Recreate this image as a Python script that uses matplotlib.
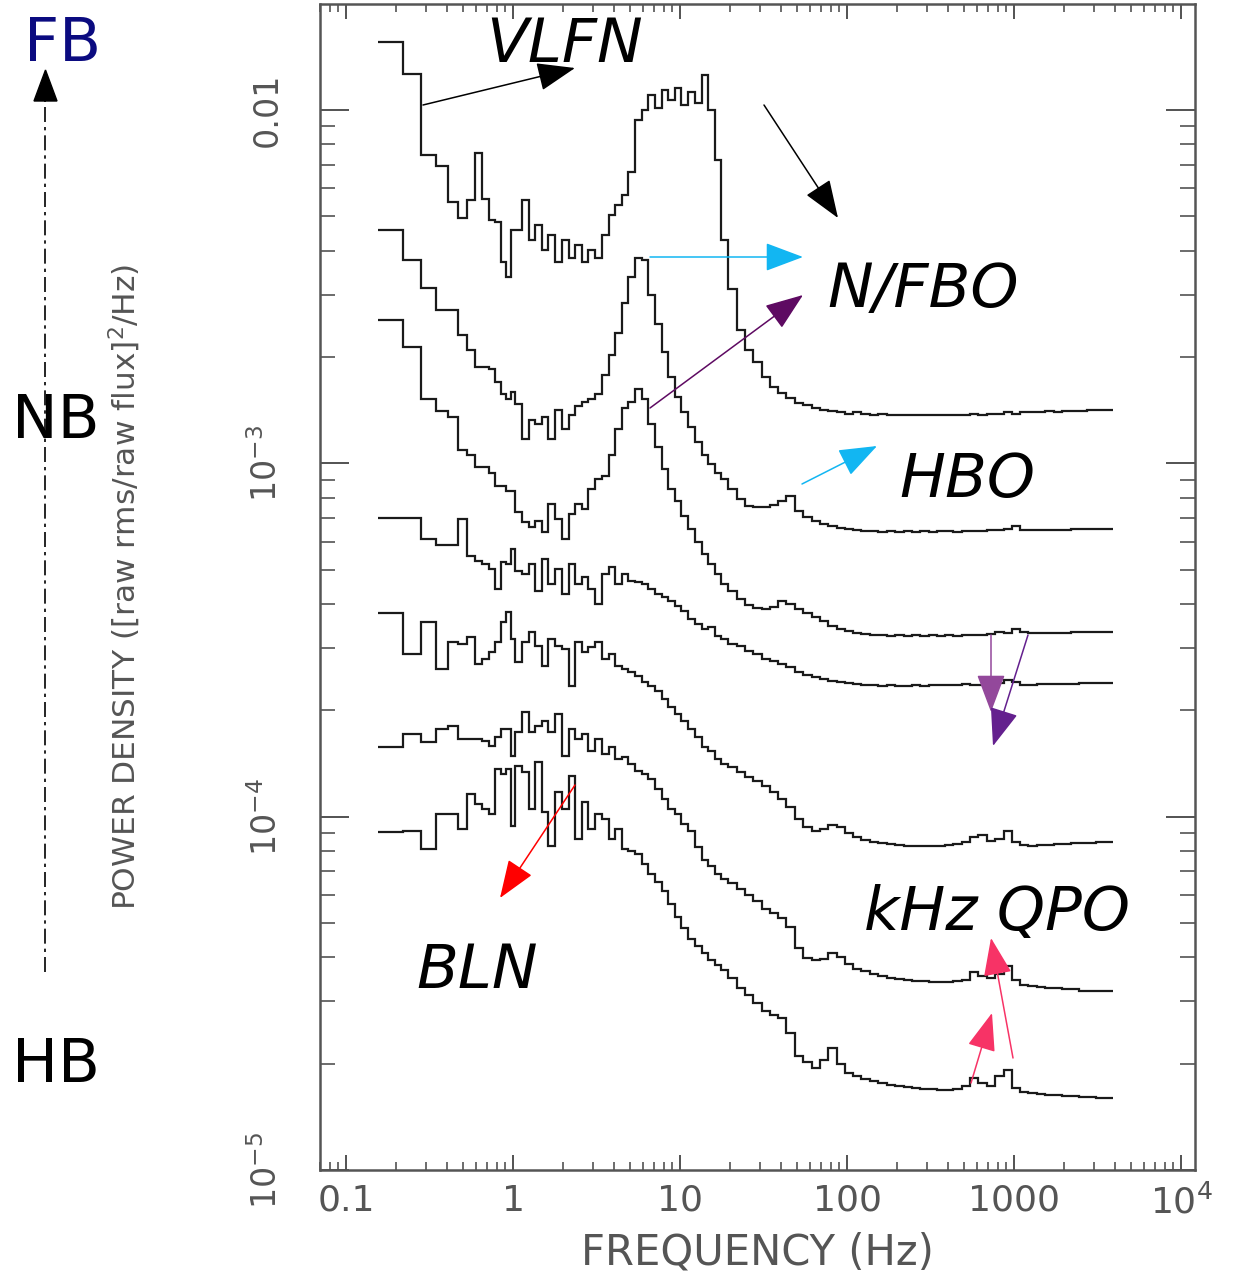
import numpy as np
import matplotlib
matplotlib.use("Agg")
import matplotlib.pyplot as plt
from matplotlib.ticker import FixedLocator, LogLocator, NullFormatter

# ---------------- data ----------------
# frequency bin edges (Hz)
freq_edges = [0.156, 0.219, 0.281, 0.344, 0.406, 0.469, 0.531, 0.594, 0.656, 0.719,
              0.781, 0.844, 0.906, 0.969, 1.03,
              1.13, 1.24, 1.36, 1.49, 1.63, 1.79, 1.96, 2.15, 2.36, 2.58,
              2.83, 3.10, 3.40, 3.73, 4.09, 4.48, 4.91, 5.38, 5.90, 6.47,
              7.09, 7.77, 8.51, 9.33, 10.2, 11.2, 12.3, 13.5, 14.8, 16.2,
              17.7, 19.4,
              21.8, 24.4, 27.4, 30.8, 34.5, 38.7, 43.4, 48.7, 54.7, 61.3,
              68.8, 77.2, 86.6, 97.2, 109, 122, 137, 154, 173, 194,
              218, 244, 274, 308, 345, 387, 434, 487, 547, 613,
              688, 772, 866, 972, 1090, 1220, 1370, 1540, 1730, 1940,
              2180, 2440, 2740, 3080, 3450, 3900]

# log10 of power density ([rms/flux]^2/Hz), top (FB) to bottom (HB)
fb_log_power = [
    -1.808, -1.898, -2.127, -2.158, -2.260, -2.305, -2.254, -2.122, -2.251, -2.311,
    -2.316, -2.429, -2.472, -2.339,
    -2.339, -2.254, -2.367, -2.325, -2.396, -2.353, -2.429, -2.367, -2.418, -2.381,
    -2.429, -2.396, -2.418, -2.353, -2.297, -2.268, -2.240, -2.175, -2.028, -2.000,
    -1.958, -1.994, -1.944, -1.972, -1.938, -1.986, -1.949, -1.980, -1.901, -2.000,
    -2.141, -2.367,
    -2.508, -2.622, -2.678, -2.712, -2.757, -2.783, -2.802, -2.816, -2.828, -2.836,
    -2.842, -2.848, -2.853, -2.856, -2.859, -2.856, -2.859, -2.862, -2.859, -2.864,
    -2.862, -2.864, -2.862, -2.864, -2.862, -2.864, -2.862, -2.862, -2.862, -2.859,
    -2.862, -2.859, -2.859, -2.856, -2.859, -2.856, -2.856, -2.856, -2.853, -2.856,
    -2.853, -2.853, -2.853, -2.850, -2.850, -2.850]

fnb_log_power = [
    -2.339, -2.424, -2.503, -2.565, -2.565, -2.636, -2.678, -2.726, -2.726, -2.734,
    -2.771, -2.805, -2.819, -2.797,
    -2.833, -2.932, -2.876, -2.890, -2.870, -2.932, -2.848, -2.904, -2.862, -2.839,
    -2.825, -2.819, -2.805, -2.749, -2.692, -2.630, -2.545, -2.472, -2.418, -2.424,
    -2.523, -2.607, -2.684, -2.757, -2.811, -2.856, -2.898, -2.941, -2.975, -3.003,
    -3.026, -3.045,
    -3.074, -3.102, -3.121, -3.124, -3.124, -3.119, -3.107, -3.093, -3.136, -3.153,
    -3.164, -3.172, -3.178, -3.184, -3.187, -3.189, -3.192, -3.192, -3.195, -3.192,
    -3.195, -3.192, -3.195, -3.192, -3.195, -3.192, -3.192, -3.195, -3.192, -3.192,
    -3.192, -3.189, -3.189, -3.187, -3.178, -3.189, -3.189, -3.189, -3.189, -3.189,
    -3.189, -3.187, -3.187, -3.187, -3.187, -3.187]

nb_log_power = [
    -2.593, -2.670, -2.819, -2.853, -2.870, -2.961, -2.975, -3.009, -3.009, -3.026,
    -3.065, -3.065, -3.079, -3.079,
    -3.139, -3.167, -3.181, -3.164, -3.195, -3.116, -3.158, -3.215, -3.144, -3.116,
    -3.130, -3.074, -3.045, -3.037, -2.975, -2.904, -2.842, -2.825, -2.791, -2.819,
    -2.890, -2.955, -3.017, -3.074, -3.107, -3.150, -3.187, -3.223, -3.257, -3.285,
    -3.314, -3.342,
    -3.362, -3.384, -3.401, -3.410, -3.412, -3.407, -3.390, -3.398, -3.412, -3.424,
    -3.435, -3.446, -3.461, -3.469, -3.475, -3.480, -3.483, -3.486, -3.486, -3.489,
    -3.486, -3.489, -3.486, -3.489, -3.486, -3.489, -3.486, -3.489, -3.486, -3.486,
    -3.486, -3.483, -3.478, -3.480, -3.469, -3.478, -3.480, -3.480, -3.480, -3.480,
    -3.480, -3.478, -3.478, -3.478, -3.478, -3.478]

hnb_log_power = [
    -3.155, -3.155, -3.215, -3.232, -3.232, -3.158, -3.263, -3.277, -3.285, -3.300,
    -3.356, -3.280, -3.285, -3.243,
    -3.305, -3.314, -3.285, -3.362, -3.271, -3.342, -3.300, -3.370, -3.285, -3.342,
    -3.322, -3.356, -3.398, -3.314, -3.294, -3.342, -3.314, -3.333, -3.336, -3.342,
    -3.356, -3.370, -3.379, -3.390, -3.404, -3.418, -3.441, -3.455, -3.469, -3.463,
    -3.489, -3.497,
    -3.511, -3.517, -3.531, -3.540, -3.554, -3.559, -3.568, -3.576, -3.591, -3.599,
    -3.605, -3.610, -3.616, -3.619, -3.622, -3.624, -3.627, -3.627, -3.630, -3.627,
    -3.630, -3.630, -3.627, -3.630, -3.627, -3.627, -3.627, -3.627, -3.624, -3.627,
    -3.627, -3.627, -3.622, -3.613, -3.619, -3.627, -3.627, -3.624, -3.624, -3.624,
    -3.624, -3.624, -3.622, -3.622, -3.622, -3.622]

uhb_log_power = [
    -3.424, -3.540, -3.449, -3.582, -3.506, -3.511, -3.492, -3.568, -3.554, -3.534,
    -3.506, -3.449, -3.421, -3.497,
    -3.562, -3.506, -3.478, -3.517, -3.574, -3.497, -3.517, -3.526, -3.630, -3.506,
    -3.534, -3.520, -3.506, -3.554, -3.540, -3.574, -3.582, -3.591, -3.602, -3.619,
    -3.630, -3.644, -3.667, -3.689, -3.709, -3.729, -3.751, -3.774, -3.802, -3.814,
    -3.836, -3.850,
    -3.859, -3.873, -3.887, -3.898, -3.912, -3.929, -3.949, -3.972, -4.006, -4.028,
    -4.040, -4.034, -4.023, -4.028, -4.045, -4.057, -4.065, -4.071, -4.074, -4.076,
    -4.079, -4.082, -4.082, -4.082, -4.082, -4.082, -4.079, -4.076, -4.071, -4.057,
    -4.051, -4.068, -4.062, -4.040, -4.071, -4.079, -4.082, -4.079, -4.079, -4.076,
    -4.076, -4.074, -4.074, -4.074, -4.071, -4.071]

hb_log_power = [
    -3.802, -3.766, -3.788, -3.751, -3.743, -3.780, -3.780, -3.780, -3.785, -3.800,
    -3.774, -3.751, -3.751, -3.828,
    -3.760, -3.703, -3.760, -3.743, -3.729, -3.760, -3.709, -3.828, -3.751, -3.780,
    -3.766, -3.814, -3.780, -3.822, -3.802, -3.836, -3.831, -3.850, -3.870, -3.879,
    -3.893, -3.921, -3.949, -3.978, -3.992, -4.020, -4.040, -4.085, -4.124, -4.141,
    -4.161, -4.175,
    -4.189, -4.204, -4.223, -4.240, -4.260, -4.274, -4.288, -4.311, -4.373, -4.401,
    -4.407, -4.404, -4.387, -4.396, -4.418, -4.430, -4.438, -4.446, -4.452, -4.458,
    -4.460, -4.463, -4.466, -4.466, -4.469, -4.469, -4.469, -4.466, -4.463, -4.441,
    -4.452, -4.458, -4.444, -4.424, -4.463, -4.475, -4.480, -4.483, -4.486, -4.486,
    -4.489, -4.489, -4.492, -4.492, -4.494, -4.494]

lhb_log_power = [
    -4.042, -4.040, -4.091, -3.992, -3.992, -4.034, -3.935, -3.963, -3.978, -3.992,
    -3.865, -3.879, -3.865, -4.026,
    -3.856, -3.873, -3.978, -3.845, -3.986, -4.082, -3.929, -3.978, -3.884, -4.062,
    -3.958, -4.034, -3.992, -4.006, -4.062, -4.034, -4.091, -4.096, -4.105, -4.133,
    -4.161, -4.184, -4.209, -4.246, -4.283, -4.316, -4.345, -4.365, -4.387, -4.407,
    -4.421, -4.435,
    -4.458, -4.486, -4.506, -4.528, -4.551, -4.562, -4.571, -4.613, -4.678, -4.695,
    -4.712, -4.689, -4.655, -4.701, -4.726, -4.735, -4.743, -4.749, -4.754, -4.760,
    -4.763, -4.766, -4.768, -4.771, -4.771, -4.774, -4.774, -4.771, -4.763, -4.740,
    -4.754, -4.763, -4.735, -4.718, -4.768, -4.780, -4.783, -4.785, -4.788, -4.788,
    -4.791, -4.791, -4.794, -4.794, -4.797, -4.797]

spectra = [fb_log_power, fnb_log_power, nb_log_power, hnb_log_power,
           uhb_log_power, hb_log_power, lhb_log_power]

x_ticks = [0.1, 1, 10, 100, 1000, 1e4]
x_tick_labels = ["0.1", "1", "10", "100", "1000", "10$^4$"]
y_ticks = [1e-5, 1e-4, 1e-3, 1e-2]
y_tick_labels = ["10$^{-5}$", "10$^{-4}$", "10$^{-3}$", "0.01"]

# ---------------- figure ----------------
W, H = 1235, 1274
fig = plt.figure(figsize=(W / 100, H / 100), dpi=100)
ax = fig.add_axes([320 / W, 104 / H, 875 / W, 1166 / H])

for lp in spectra:
    ax.stairs(10 ** np.array(lp), freq_edges, baseline=None,
              color="#1a1a1a", lw=1.6)

ax.set_xscale("log")
ax.set_yscale("log")
ax.set_xlim(10 ** -1.156, 10 ** 4.084)
ax.set_ylim(1e-5, 10 ** -1.70)

ax.xaxis.set_major_locator(FixedLocator(x_ticks))
ax.xaxis.set_minor_locator(LogLocator(base=10, subs=range(2, 10), numticks=50))
ax.xaxis.set_minor_formatter(NullFormatter())
ax.set_xticklabels(x_tick_labels)
ax.yaxis.set_major_locator(FixedLocator(y_ticks))
ax.yaxis.set_minor_locator(LogLocator(base=10, subs=range(2, 10), numticks=50))
ax.yaxis.set_minor_formatter(NullFormatter())
ax.set_yticklabels(y_tick_labels)

ax.tick_params(which="both", direction="in", top=True, right=True, color="#444444")
ax.tick_params(axis="x", which="major", length=11, width=1.3, pad=10,
               labelsize=26, labelcolor="#555555")
ax.tick_params(axis="x", which="minor", length=6, width=1.1)
ax.tick_params(axis="y", which="major", length=21, width=1.3, pad=26,
               labelsize=24, labelcolor="#555555", labelrotation=90)
ax.tick_params(axis="y", which="minor", length=11, width=1.1)
for lab in ax.get_yticklabels():
    lab.set_va("center")
for sp in ax.spines.values():
    sp.set_color("#555555")
    sp.set_linewidth(1.8)

# ---------------- overlay for annotations (pixel layout) ----------------
ov = fig.add_axes([0, 0, 1, 1])
ov.set_xlim(0, W)
ov.set_ylim(H, 0)
ov.axis("off")

ov.text(125, 587, "POWER DENSITY ([raw rms/raw flux]$^2$/Hz)", rotation=90,
        fontsize=22.5, color="#555555", ha="center", va="center")
ov.text(757, 1252, "FREQUENCY (Hz)", fontsize=30, color="#555555",
        ha="center", va="center")

lab_kw = dict(fontsize=44, style="italic", ha="center", va="baseline", color="black")
ov.text(565, 62, "VLFN", **lab_kw)
ov.text(923, 307, "N/FBO", **lab_kw)
ov.text(967, 497, "HBO", **lab_kw)
ov.text(477, 988, "BLN", **lab_kw)
ov.text(997, 930, "kHz QPO", **lab_kw)

side_kw = dict(fontsize=44, ha="left", va="baseline")
ov.text(24, 61, "FB", color="#0b0b80", **side_kw)
ov.text(12, 438, "NB", color="black", **side_kw)
ov.text(12, 1082, "HB", color="black", **side_kw)

ov.plot([45, 45], [972, 101], color="black", lw=1.2, linestyle=(0, (9, 3, 2, 3)))
ov.fill([34, 57, 45.5], [101, 101, 70], color="black")


def arrow(start, tip, color):
    ov.annotate("", xy=tip, xytext=start,
                arrowprops=dict(arrowstyle="-|>,head_length=0.8,head_width=0.3",
                                mutation_scale=30, color=color, lw=1.1,
                                shrinkA=0, shrinkB=0))


arrow((423, 105), (575, 68), "black")
arrow((764, 105), (838, 218), "black")
arrow((650, 257), (803, 257), "#12b6f2")
arrow((650, 408), (803, 295), "#5e0a62")
arrow((802, 484), (877, 446), "#12b6f2")
arrow((991, 635), (991, 712), "#93489b")
arrow((1028, 635), (993, 746), "#64208e")
arrow((575, 785), (500, 898), "#ff0000")
arrow((971, 1083), (992, 1013), "#f73366")
arrow((1013, 1058), (991, 938), "#f73366")

fig.savefig("out.png", dpi=100)
